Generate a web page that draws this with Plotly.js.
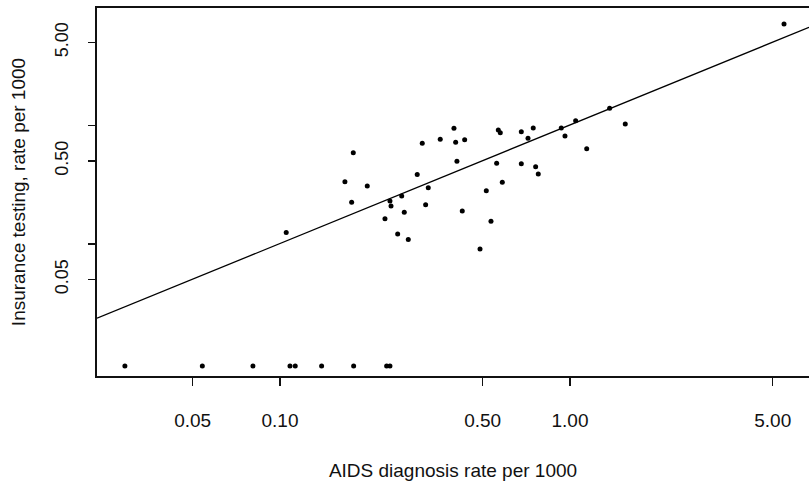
<!DOCTYPE html>
<html>
<head>
<meta charset="utf-8">
<script src="https://cdn.plot.ly/plotly-3.0.1.min.js"></script>
<style>html,body{margin:0;padding:0;background:#fff;}#chart{width:809px;height:483px;}</style>
</head>
<body>
<div id="chart"></div>
<script>
// AIDS diagnosis rate per 1000 (states with positive testing rate)
const aidsRate = [0.1051,0.1675,0.1767,0.1790,0.2000,0.2302,0.2395,0.2415,0.2546,0.2629,
  0.2683,0.2770,0.2974,0.3095,0.3179,0.3246,0.3570,0.3981,0.4035,0.4076,
  0.4252,0.4334,0.4895,0.5146,0.5341,0.5587,0.5660,0.5751,0.5843,0.6795,
  0.6795,0.7166,0.7470,0.7614,0.7774,0.9333,0.9612,1.046,1.142,1.370,
  1.551,5.470];
// Insurance testing rate per 1000
const testRate = [0.1246,0.3344,0.2241,0.5875,0.3076,0.1630,0.2298,0.2086,0.1211,0.2533,
  0.1845,0.1088,0.3846,0.7051,0.2139,0.2971,0.7622,0.9438,0.7190,0.4971,
  0.1892,0.7562,0.0904,0.2808,0.1549,0.4782,0.9132,0.8665,0.3305,0.8836,
  0.4745,0.7773,0.9495,0.4476,0.3884,0.9495,0.8126,1.094,0.6351,1.392,
  1.026,7.164];
// States with zero insurance testing (drawn along the bottom)
const zeroAidsRate = [0.0292,0.0540,0.0807,0.1083,0.1129,0.1392,0.1795,0.2333,0.2395];
const zeroTestDisplay = 0.0093;
// Fitted line on log-log scale: log10(y) = a + b*log10(x)
const fitIntercept = 0.003;
const fitSlope = 1.0;
// Axis ranges
const xMin = 0.0234, xMax = 6.67;
const yMin = 0.00767, yMax = 9.78;
// Ticks
const xTickVals = [0.05,0.1,0.5,1,5];
const xTickText = ['0.05','0.10','0.50','1.00','5.00'];
const yTickVals = [0.05,0.1,0.5,1,5];
const yTickText = ['0.05','','0.50','','5.00'];

const fitX = [xMin, xMax];
const fitY = fitX.map(v => Math.pow(10, fitIntercept + fitSlope*Math.log10(v)));

const fam = 'Liberation Sans, Arial, sans-serif';
const titleFont = {family: fam, size: 19, color: '#111'};
const xTickFont = {family: fam, size: 19, color: '#111'};
const yTickFont = {family: fam, size: 18, color: '#111'};

const traces = [
  {x: aidsRate, y: testRate, type: 'scatter', mode: 'markers',
   marker: {color: '#000', size: 5}, cliponaxis: false, hoverinfo: 'x+y'},
  {x: zeroAidsRate, y: zeroAidsRate.map(() => zeroTestDisplay), type: 'scatter', mode: 'markers',
   marker: {color: '#000', size: 5}, hoverinfo: 'x'},
  {x: fitX, y: fitY, type: 'scatter', mode: 'lines',
   line: {color: '#000', width: 1.3}, hoverinfo: 'skip'}
];

const layout = {
  width: 809, height: 483,
  margin: {l: 97, r: 0, t: 8, b: 107},
  paper_bgcolor: '#fff', plot_bgcolor: '#fff',
  showlegend: false,
  font: titleFont,
  xaxis: {
    type: 'log', range: [Math.log10(xMin), Math.log10(xMax)],
    tickvals: xTickVals, ticktext: xTickText,
    ticks: 'outside', ticklen: 8, tickwidth: 1.3, tickcolor: '#111',
    showline: true, linecolor: '#111', linewidth: 1.7, mirror: true,
    showgrid: false, zeroline: false,
    ticklabelstandoff: 18,
    tickfont: xTickFont,
    title: {text: 'AIDS diagnosis rate per 1000', font: titleFont, standoff: 34}
  },
  yaxis: {
    type: 'log', range: [Math.log10(yMin), Math.log10(yMax)],
    tickvals: yTickVals, ticktext: yTickText, tickangle: -90,
    ticks: 'outside', ticklen: 7, tickwidth: 1.3, tickcolor: '#111',
    showline: true, linecolor: '#111', linewidth: 1.7, mirror: false,
    showgrid: false, zeroline: false,
    ticklabelstandoff: 13,
    tickfont: yTickFont,
    title: {text: 'Insurance testing, rate per 1000', font: titleFont, standoff: 21}
  }
};

Plotly.newPlot('chart', traces, layout, {displayModeBar: false, staticPlot: true});
</script>
</body>
</html>
